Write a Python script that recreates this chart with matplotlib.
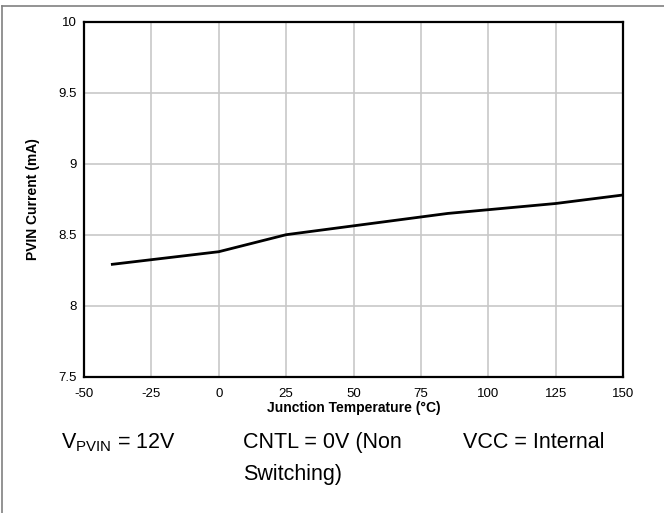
import matplotlib
matplotlib.use('Agg')
import matplotlib.pyplot as plt
from matplotlib.lines import Line2D

# Junction temperature (C) vs PVIN current (mA)
Temp = [-40, 0, 25, 85, 125, 150]
Current = [8.29, 8.38, 8.50, 8.65, 8.72, 8.78]
XTicks = [-50, -25, 0, 25, 50, 75, 100, 125, 150]
YTicks = [7.5, 8, 8.5, 9, 9.5, 10]
YTickLabels = ["7.5", "8", "8.5", "9", "9.5", "10"]

plt.rcParams['font.family'] = ['Liberation Sans', 'DejaVu Sans']
plt.rcParams['mathtext.fontset'] = 'custom'
plt.rcParams['mathtext.rm'] = 'Liberation Sans'
plt.rcParams['axes.unicode_minus'] = False

W, H = 664, 513
fig = plt.figure(figsize=(W/100.0, H/100.0), dpi=100)
ax = fig.add_axes([84.0/W, 1-376.5/H, (623-84.0)/W, (376.5-22.0)/H])

ax.plot(Temp, Current, color='black', lw=2.0, solid_capstyle='butt')

ax.set_xlim(-50, 150)
ax.set_ylim(7.5, 10)
ax.set_xticks(XTicks)
ax.set_yticks(YTicks)
ax.set_yticklabels(YTickLabels)
ax.grid(True, color='#c8c8c8', lw=1.2)
ax.set_axisbelow(True)
ax.tick_params(axis='x', length=0, pad=8, labelsize=9.5)
ax.tick_params(axis='y', length=0, pad=5, labelsize=9.5)
for s in ax.spines.values():
    s.set_linewidth(1.6)
    s.set_color('black')

ax.set_xlabel("Junction Temperature (°C)", fontsize=10, fontweight='bold', labelpad=1)
ax.set_ylabel("PVIN Current (mA)", fontsize=10, fontweight='bold')
ax.yaxis.set_label_coords(-(84-40.0)/(623-84.0), 0.5)

# test conditions under the chart
fs = 15.5
fig.text(61.0/W, 1-448.0/H, r"V$_{\mathrm{PVIN}}$ = 12V", fontsize=fs, va='baseline', ha='left')
fig.text(243.0/W, 1-448.0/H, "CNTL = 0V (Non", fontsize=fs, va='baseline', ha='left')
fig.text(243.0/W, 1-480.0/H, "Switching)", fontsize=fs, va='baseline', ha='left')
fig.text(463.0/W, 1-448.0/H, "VCC = Internal", fontsize=fs, va='baseline', ha='left')

# outer frame (top and left edges)
fig.add_artist(Line2D([1.5/W, 1.5/W], [0, 1-5.5/H], color='#808080', lw=1.2, transform=fig.transFigure))
fig.add_artist(Line2D([1.5/W, 1], [1-5.5/H, 1-5.5/H], color='#808080', lw=1.2, transform=fig.transFigure))

plt.savefig("out.png", dpi=100)
